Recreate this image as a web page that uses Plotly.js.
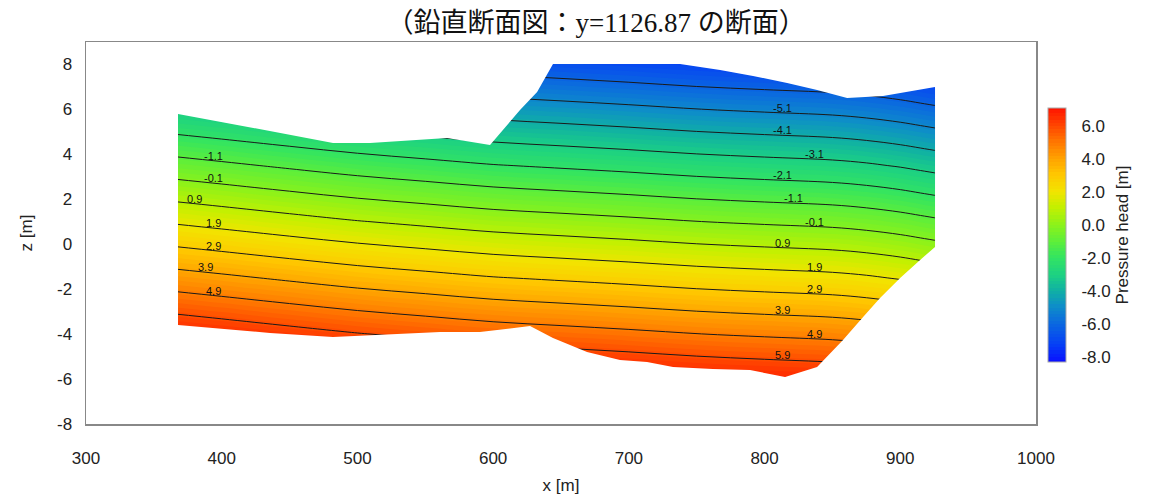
<!DOCTYPE html>
<html><head><meta charset="utf-8">
<script src="https://cdn.plot.ly/plotly-3.0.1.min.js"></script>
<style>html,body{margin:0;padding:0;background:#fff}#chart{width:1150px;height:500px}</style>
</head><body><div id="chart"></div>
<script>
// ---------------- data ----------------
const gridX = [365, 400, 450, 500, 550, 600, 650, 700, 750, 800, 850, 875, 900, 915, 930];
const gridZ = [-6.5, -4, -1.5, 1, 3.5, 6, 8.5];
const headRows = [
  [ 9.30,  9.08,  8.76,  8.45,  8.20,  7.95,  7.78,  7.61,  7.42,  7.28,  7.15,  7.02,  6.83,  6.68,  6.53],
  [ 6.80,  6.58,  6.26,  5.95,  5.70,  5.45,  5.28,  5.11,  4.92,  4.78,  4.65,  4.52,  4.33,  4.18,  4.03],
  [ 4.30,  4.08,  3.76,  3.45,  3.20,  2.95,  2.78,  2.61,  2.42,  2.28,  2.15,  2.02,  1.83,  1.68,  1.53],
  [ 1.80,  1.58,  1.26,  0.95,  0.70,  0.45,  0.28,  0.11, -0.08, -0.22, -0.35, -0.48, -0.67, -0.82, -0.97],
  [-0.70, -0.92, -1.24, -1.55, -1.80, -2.05, -2.22, -2.39, -2.58, -2.72, -2.85, -2.98, -3.17, -3.32, -3.47],
  [-3.20, -3.42, -3.74, -4.05, -4.30, -4.55, -4.72, -4.89, -5.08, -5.22, -5.35, -5.48, -5.67, -5.82, -5.97],
  [-5.70, -5.92, -6.24, -6.55, -6.80, -7.05, -7.22, -7.39, -7.58, -7.72, -7.85, -7.98, -8.17, -8.32, -8.47]
];
// section outline (clockwise)
const boundaryX = [367.8, 482.0, 509.3, 566.0, 597.7, 619.8, 632.4, 644.1, 737.7, 767.2, 791.5, 816.6, 838.7, 860.8, 887.3, 925.6,
                   925.6, 914.6, 899.9, 885.1, 872.6, 857.8, 838.7, 815.1, 789.3, 762.0, 732.6, 713.4, 693.5, 669.2, 644.1, 627.2,
                   590.3, 560.9, 482.0, 435.6, 367.8];
const boundaryZ = [5.80, 4.51, 4.51, 4.73, 4.42, 5.97, 6.78, 8.02, 8.02, 7.75, 7.49, 7.18, 6.86, 6.51, 6.60, 7.00,
                   -0.12, -0.70, -1.50, -2.39, -3.24, -4.26, -5.46, -5.91, -5.60, -5.55, -5.46, -5.24, -5.15, -4.80, -4.17, -3.64,
                   -3.91, -3.91, -4.13, -3.95, -3.59];
const leftLabelLevels  = [-1.1, -0.1, 0.9, 1.9, 2.9, 3.9, 4.9];
const rightLabelLevels = [-5.1, -4.1, -3.1, -2.1, -1.1, -0.1, 0.9, 1.9, 2.9, 3.9, 4.9, 5.9];
const colorbarTicks = [-8, -6, -4, -2, 0, 2, 4, 6];
const yTicks = [-8, -6, -4, -2, 0, 2, 4, 6, 8];
const xTicks = [300, 400, 500, 600, 700, 800, 900, 1000];

// ---------------- styling / layout ----------------
const leftLabelX  = [394, 394, 380, 394, 394, 388, 394];
const rightLabelX = [813, 813, 837, 813, 821, 837, 813, 837, 837, 813, 837, 813];

const cscale = [
  [0.00, '#0a10ff'], [0.07, '#0540f5'], [0.15, '#0b68e0'], [0.22, '#0e8ec8'],
  [0.28, '#10b0a4'], [0.34, '#1cd084'], [0.41, '#32e462'], [0.47, '#5aee3c'],
  [0.54, '#8cf21a'], [0.61, '#c4f000'], [0.67, '#f2e400'], [0.74, '#ffc600'],
  [0.80, '#ffa200'], [0.87, '#ff7400'], [0.93, '#ff4600'], [1.00, '#ff1400']
];
const FONT = "'Liberation Sans', Arial, sans-serif";

function idx(arr, v) {
  let i = 0;
  while (i < arr.length - 2 && v > arr[i + 1]) i++;
  return i;
}
function headAt(x, z) {
  const i = idx(gridX, x), j = idx(gridZ, z);
  const tx = (x - gridX[i]) / (gridX[i + 1] - gridX[i]);
  const tz = (z - gridZ[j]) / (gridZ[j + 1] - gridZ[j]);
  const a = headRows[j][i], b = headRows[j][i + 1], c = headRows[j + 1][i], d = headRows[j + 1][i + 1];
  return (a * (1 - tx) + b * tx) * (1 - tz) + (c * (1 - tx) + d * tx) * tz;
}
function levelZ(level, x) {
  let pz = gridZ[0], pv = headAt(x, pz);
  const top = gridZ[gridZ.length - 1];
  for (let z = pz + 0.01; z <= top; z += 0.01) {
    const v = headAt(x, z);
    if ((v - level) * (pv - level) <= 0) return pz + (level - pv) / (v - pv) * (z - pz);
    pz = z; pv = v;
  }
  return null;
}
const annotations = [];
function addLabels(levels, xs) {
  levels.forEach((lv, k) => {
    const zz = levelZ(lv, xs[k]);
    if (zz === null) return;
    annotations.push({x: xs[k], y: zz, xref: 'x', yref: 'y', text: lv.toFixed(1), showarrow: false,
      xanchor: 'center', yanchor: 'bottom', yshift: -3, font: {family: FONT, size: 11, color: '#111'}});
  });
}
addLabels(leftLabelLevels, leftLabelX);
addLabels(rightLabelLevels, rightLabelX);

let poly = 'M' + boundaryX.map((x, i) => x + ',' + boundaryZ[i]).join(' L') + ' Z';
const maskPath = 'M355,-7 L940,-7 L940,8.8 L355,8.8 Z ' + poly;

const fillTrace = {
  type: 'contour', x: gridX, y: gridZ, z: headRows, colorscale: cscale,
  autocontour: false, contours: {start: -8.2, end: 7.0, size: 0.2, coloring: 'fill', showlines: false},
  line: {width: 0}, hoverinfo: 'skip',
  colorbar: {
    thickness: 18, thicknessmode: 'pixels', len: 254, lenmode: 'pixels',
    x: 1.0126, xanchor: 'left', xpad: 0, y: 0.4948, yanchor: 'middle', ypad: 0,
    outlinewidth: 1, outlinecolor: '#aaa',
    tickmode: 'array', tickvals: colorbarTicks, ticktext: colorbarTicks.map(v => v.toFixed(1)),
    ticks: 'outside', ticklen: 12, tickcolor: 'rgba(0,0,0,0)',
    tickfont: {family: FONT, size: 17, color: '#222'},
    title: {text: 'Pressure head [m]', side: 'right', font: {family: FONT, size: 17, color: '#222'}}
  }
};
const lineTrace = {
  type: 'contour', x: gridX, y: gridZ, z: headRows, showscale: false,
  colorscale: [[0, '#1a1a1a'], [1, '#1a1a1a']],
  autocontour: false, contours: {start: -8.1, end: 6.9, size: 1, coloring: 'lines'},
  line: {width: 1}, hoverinfo: 'skip'
};

const layout = {
  width: 1150, height: 500,
  margin: {l: 86, r: 114, t: 42, b: 76},
  paper_bgcolor: '#fff', plot_bgcolor: '#fff',
  font: {family: FONT, color: '#222'},
  title: {
    text: '（鉛直断面図：y=1126.87 の断面）',
    font: {family: "'Liberation Serif', 'Noto Sans CJK JP', serif", size: 27, color: '#111'},
    x: 0.5183, xref: 'container', xanchor: 'center', y: 0.955, yref: 'container', yanchor: 'middle'
  },
  xaxis: {
    range: [300, 1000], tickmode: 'array', tickvals: xTicks, ticktext: xTicks.map(String),
    ticks: 'outside', ticklen: 18, tickcolor: 'rgba(0,0,0,0)',
    showgrid: false, zeroline: false, showline: true, mirror: true, linecolor: '#888', linewidth: 1.5,
    tickfont: {family: FONT, size: 17, color: '#222'},
    title: {text: 'x [m]', font: {family: FONT, size: 17, color: '#222'}, standoff: 12}
  },
  yaxis: {
    range: [-8, 9], tickmode: 'array', tickvals: yTicks, ticktext: yTicks.map(String),
    ticks: 'outside', ticklen: 9, tickcolor: 'rgba(0,0,0,0)',
    showgrid: false, zeroline: false, showline: true, mirror: true, linecolor: '#888', linewidth: 1.5,
    tickfont: {family: FONT, size: 17, color: '#222'},
    title: {text: 'z [m]', font: {family: FONT, size: 17, color: '#222'}, standoff: 20}
  },
  shapes: [{type: 'path', xref: 'x', yref: 'y', path: maskPath, fillcolor: '#fff', fillrule: 'evenodd',
            line: {width: 0}, layer: 'above'}],
  annotations: annotations,
  showlegend: false
};
Plotly.newPlot('chart', [fillTrace, lineTrace], layout, {displayModeBar: false, staticPlot: true});
</script></body></html>
